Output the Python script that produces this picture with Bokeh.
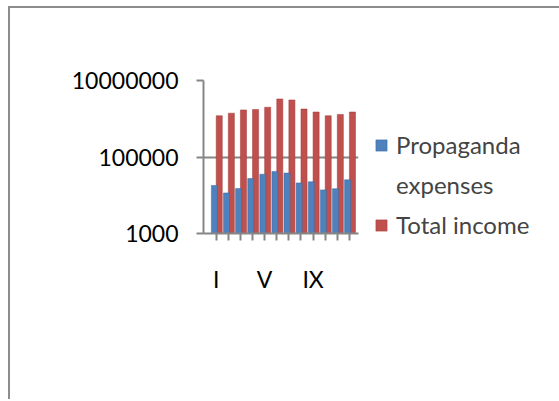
from bokeh.plotting import figure
from bokeh.models import FixedTicker, Legend, LegendItem, Range1d
from bokeh.embed import file_html
from bokeh.resources import INLINE

months = ["I", "II", "III", "IV", "V", "VI", "VII", "VIII", "IX", "X", "XI", "XII"]
propaganda = [18000, 11500, 15000, 27500, 35500, 42000, 38000, 21000, 22500, 13800, 14800, 25300]
income = [1200000, 1400000, 1700000, 1750000, 2000000, 3300000, 3100000, 1800000, 1500000, 1200000, 1300000, 1500000]
y_ticks = [1000, 100000, 10000000]
shown_labels = ["I", "V", "IX"]
legend_lines = ["Propaganda", "expenses", "Total income"]

pos = list(range(1, len(months) + 1))
FONT = "Lato"
GRAY = "#868686"

p = figure(frame_width=155, frame_height=153, y_axis_type="log",
           x_range=Range1d(-0.05, 12.75), y_range=Range1d(1000, 10000000),
           output_backend="svg", toolbar_location=None,
           min_border_left=193, min_border_right=30,
           min_border_top=72, min_border_bottom=166)
p.styles = {"border-top": "2px solid #8c8c8c", "border-left": "2px solid #8c8c8c",
            "margin-left": "8px", "margin-top": "6px"}
p.outline_line_color = None
p.background_fill_color = "white"
p.border_fill_color = "white"

r_red = p.vbar(x=[m + 0.25 for m in pos], top=income, bottom=1000, width=0.5,
               fill_color="#C0504D", line_color="#9E3B38", line_width=0.5)
r_blue = p.vbar(x=[m - 0.15 for m in pos], top=propaganda, bottom=1000, width=0.5,
                fill_color="#4F81BD", line_color="#3A679C", line_width=0.5)
r_none = p.vbar(x=[], top=[], width=0.5, fill_alpha=0, line_alpha=0)

p.yaxis.ticker = FixedTicker(ticks=y_ticks)
p.yaxis.major_label_overrides = {t: str(t) for t in y_ticks}
p.yaxis.minor_tick_line_color = None
p.yaxis.axis_line_color = GRAY
p.yaxis.axis_line_width = 2
p.yaxis.major_tick_line_color = GRAY
p.yaxis.major_tick_line_width = 2
p.yaxis.major_tick_out = 7
p.yaxis.major_tick_in = 0
p.yaxis.major_label_standoff = 18
p.yaxis.major_label_text_font = FONT
p.yaxis.major_label_text_font_size = "23px"
p.yaxis.major_label_text_color = "black"

p.xaxis.ticker = FixedTicker(ticks=pos)
p.xaxis.major_label_overrides = {m: (lab if lab in shown_labels else "") for m, lab in zip(pos, months)}
p.xaxis.axis_line_color = GRAY
p.xaxis.axis_line_width = 2
p.xaxis.major_tick_line_color = GRAY
p.xaxis.major_tick_line_width = 2
p.xaxis.major_tick_out = 7
p.xaxis.major_tick_in = 0
p.xaxis.major_label_standoff = 24
p.xaxis.major_label_text_font = FONT
p.xaxis.major_label_text_font_size = "23px"
p.xaxis.major_label_text_color = "black"

p.xgrid.grid_line_color = None
p.ygrid.ticker = FixedTicker(ticks=y_ticks)
p.ygrid.grid_line_color = GRAY
p.ygrid.grid_line_width = 2

legend = Legend(items=[LegendItem(label=legend_lines[0], renderers=[r_blue]),
                       LegendItem(label=legend_lines[1], renderers=[r_none]),
                       LegendItem(label=legend_lines[2], renderers=[r_red])],
                location=(16, -6), orientation="vertical",
                glyph_width=14, glyph_height=14, label_standoff=8,
                label_text_font=FONT, label_text_font_size="24px",
                label_text_line_height=1.2, label_height=29,
                spacing=11, padding=0, margin=0,
                border_line_color=None, background_fill_alpha=0)
p.add_layout(legend, "right")

open("out.html", "w").write(file_html(p, INLINE))
